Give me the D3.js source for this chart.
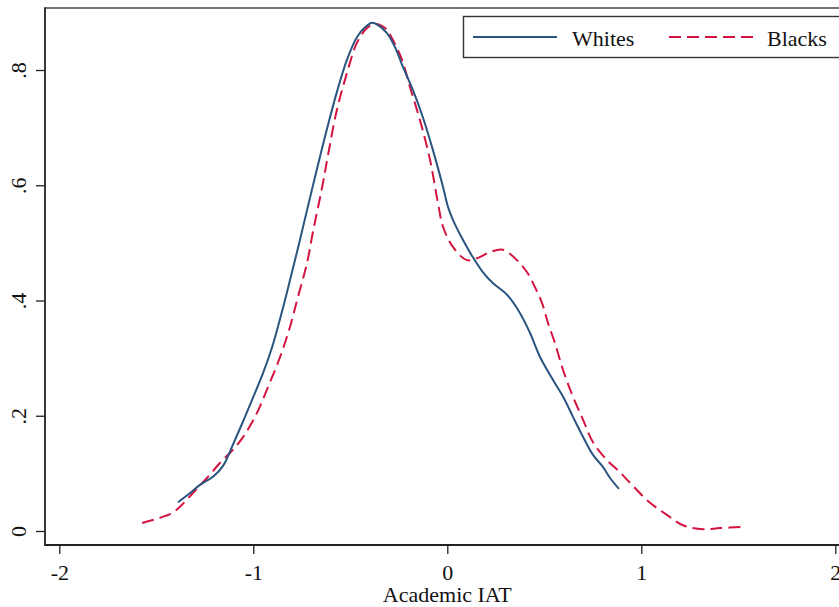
<!DOCTYPE html>
<html>
<head>
<meta charset="utf-8">
<script src="https://cdn.jsdelivr.net/npm/d3@7"></script>
<style>
  html, body { margin: 0; padding: 0; background: #fff; }
  svg { display: block; }
  text { font-family: "Liberation Serif", "DejaVu Serif", serif; fill: #111; }
</style>
</head>
<body>
<svg id="chart" width="839" height="607"></svg>
<script>
// ---- Data (kernel density estimates) ----
const whitesX = [-1.388,-1.326,-1.275,-1.208,-1.156,-1.105,-1.053,-1.002,-0.950,-0.904,-0.852,-0.811,-0.759,-0.708,-0.656,-0.620,-0.569,-0.517,-0.466,-0.424,-0.388,-0.357,-0.311,-0.270,-0.228,-0.177,-0.126,-0.074,-0.022,0.004,0.029,0.081,0.132,0.184,0.236,0.308,0.375,0.426,0.478,0.545,0.597,0.648,0.700,0.751,0.803,0.839,0.885];
const whitesY = [0.050,0.066,0.080,0.094,0.113,0.150,0.190,0.231,0.274,0.318,0.381,0.435,0.506,0.578,0.650,0.698,0.762,0.818,0.857,0.874,0.882,0.878,0.864,0.840,0.805,0.765,0.718,0.661,0.597,0.562,0.540,0.505,0.475,0.449,0.430,0.410,0.378,0.344,0.302,0.262,0.233,0.198,0.163,0.132,0.111,0.092,0.073];

const blacksX = [-1.573,-1.481,-1.419,-1.378,-1.311,-1.239,-1.172,-1.105,-1.053,-0.981,-0.924,-0.862,-0.811,-0.770,-0.723,-0.692,-0.646,-0.615,-0.569,-0.517,-0.466,-0.414,-0.373,-0.321,-0.280,-0.233,-0.192,-0.141,-0.089,-0.048,-0.022,0.029,0.101,0.158,0.220,0.287,0.359,0.411,0.452,0.488,0.519,0.555,0.597,0.648,0.700,0.751,0.823,0.890,0.957,1.045,1.132,1.215,1.318,1.405,1.524];
const blacksY = [0.014,0.023,0.031,0.042,0.066,0.092,0.118,0.141,0.163,0.205,0.250,0.302,0.354,0.406,0.465,0.520,0.595,0.652,0.731,0.795,0.847,0.873,0.880,0.873,0.852,0.817,0.770,0.713,0.644,0.569,0.528,0.493,0.470,0.474,0.484,0.488,0.470,0.449,0.423,0.396,0.361,0.326,0.279,0.233,0.193,0.154,0.123,0.102,0.078,0.049,0.028,0.010,0.003,0.005,0.007];

const xTicks = [-2, -1, 0, 1, 2];
const xTickLabels = ["-2", "-1", "0", "1", "2"];
const yTicks = [0, 0.2, 0.4, 0.6, 0.8];
const yTickLabels = ["0", ".2", ".4", ".6", ".8"];
const seriesNames = ["Whites", "Blacks"];
const xTitle = "Academic IAT";

// ---- Layout ----
const svg = d3.select("#chart");
const plotLeft = 45, plotTop = 8, plotBottom = 545, plotRight = 850;
const blue = "#2a5580", red = "#d3143f", axisCol = "#222";
const fs = 22;

const x = d3.scaleLinear().domain([-2, 2]).range([59.3, 835.3]);
const y = d3.scaleLinear().domain([0, 0.8]).range([531, 70]);

// frame: top line
svg.append("line")
  .attr("x1", plotLeft).attr("x2", plotRight)
  .attr("y1", plotTop).attr("y2", plotTop)
  .attr("stroke", "#444").attr("stroke-width", 1.6);

// x axis
const xAxis = d3.axisBottom(x).tickValues(xTicks)
  .tickFormat((d, i) => xTickLabels[i]).tickSize(9).tickSizeOuter(0).tickPadding(10);
const gx = svg.append("g").attr("transform", `translate(0,${plotBottom})`).call(xAxis);
gx.select(".domain").remove();
gx.selectAll(".tick line").attr("stroke", axisCol).attr("stroke-width", 1.3);
gx.selectAll(".tick text").attr("font-size", fs).attr("fill", "#111")
  .attr("font-family", "Liberation Serif, serif");
svg.append("line").attr("x1", plotLeft).attr("x2", plotRight)
  .attr("y1", plotBottom).attr("y2", plotBottom)
  .attr("stroke", axisCol).attr("stroke-width", 1.8);

// y axis
const yAxis = d3.axisLeft(y).tickValues(yTicks)
  .tickFormat((d, i) => yTickLabels[i]).tickSize(9).tickSizeOuter(0).tickPadding(6);
const gy = svg.append("g").attr("transform", `translate(${plotLeft},0)`).call(yAxis);
gy.select(".domain").remove();
gy.selectAll(".tick line").attr("stroke", axisCol).attr("stroke-width", 1.3);
gy.selectAll(".tick text").remove();
gy.selectAll(".tick").append("text")
  .attr("transform", "translate(-19,0) rotate(-90)")
  .attr("text-anchor", "middle")
  .attr("font-size", fs).attr("fill", "#111")
  .attr("font-family", "Liberation Serif, serif")
  .text((d, i) => yTickLabels[i]);
svg.append("line").attr("x1", plotLeft).attr("x2", plotLeft)
  .attr("y1", plotTop - 0.8).attr("y2", plotBottom + 0.9)
  .attr("stroke", axisCol).attr("stroke-width", 1.8);

// axis title
svg.append("text").attr("x", x(0)).attr("y", 602)
  .attr("text-anchor", "middle").attr("font-size", fs).text(xTitle);

// lines
const line = d3.line().x(d => x(d[0])).y(d => y(d[1])).curve(d3.curveCatmullRom.alpha(0.5));
const whites = whitesX.map((v, i) => [v, whitesY[i]]);
const blacks = blacksX.map((v, i) => [v, blacksY[i]]);

svg.append("path").datum(blacks).attr("d", line)
  .attr("fill", "none").attr("stroke", red).attr("stroke-width", 2)
  .attr("stroke-dasharray", "12,6");
svg.append("path").datum(whites).attr("d", line)
  .attr("fill", "none").attr("stroke", blue).attr("stroke-width", 2);

// legend
const lg = svg.append("g");
lg.append("rect").attr("x", 463.5).attr("y", 16.5).attr("width", 400).attr("height", 41)
  .attr("fill", "#fff").attr("stroke", "#333").attr("stroke-width", 1.4);
lg.append("line").attr("x1", 473).attr("x2", 557).attr("y1", 37).attr("y2", 37)
  .attr("stroke", blue).attr("stroke-width", 2);
lg.append("text").attr("x", 572).attr("y", 46).attr("font-size", fs).text(seriesNames[0]);
lg.append("line").attr("x1", 669).attr("x2", 754).attr("y1", 37).attr("y2", 37)
  .attr("stroke", red).attr("stroke-width", 2).attr("stroke-dasharray", "12,6");
lg.append("text").attr("x", 767).attr("y", 46).attr("font-size", fs).text(seriesNames[1]);
</script>
</body>
</html>
